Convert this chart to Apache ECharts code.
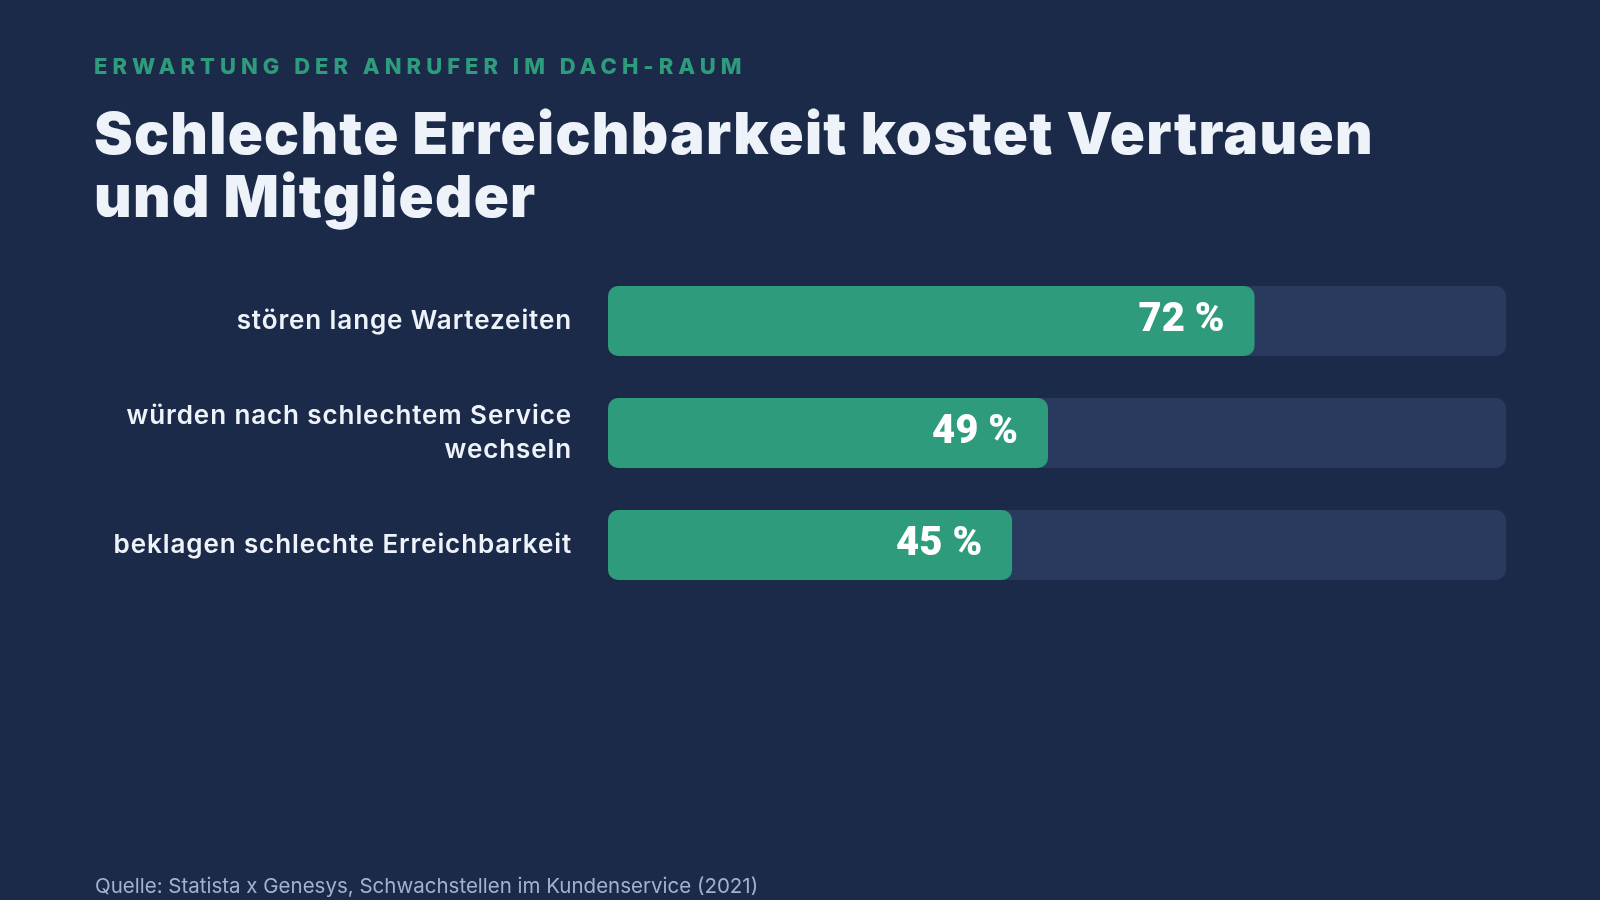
<!DOCTYPE html>
<html>
<head>
<meta charset="utf-8">
<script src="https://cdn.jsdelivr.net/npm/echarts@6/dist/echarts.min.js"></script>
<style>
html,body{margin:0;padding:0;background:#1c2a4a;}
#chart{width:1600px;height:900px;}
</style>
</head>
<body>
<div id="chart"></div>
<script>
const categories = ['stören lange Wartezeiten', 'würden nach schlechtem Service wechseln', 'beklagen schlechte Erreichbarkeit'];
const values = [72, 49, 45];
const kicker = 'ERWARTUNG DER ANRUFER IM DACH-RAUM';
const headline = 'Schlechte Erreichbarkeit kostet Vertrauen\nund Mitglieder';
const source = 'Quelle: Statista x Genesys, Schwachstellen im Kundenservice (2021)';

// tracking (letter spacing) per text style, applied at draw time
const tracking = [
  { match: '800 22px', spacing: '5px' },
  { match: '900 58px', spacing: '1.3px' },
  { match: '600 26px', spacing: '0.9px' }
];
const origFill = CanvasRenderingContext2D.prototype.fillText;
function drawPlain(ctx, t, x, y, m) {
  return m === undefined ? origFill.call(ctx, t, x, y) : origFill.call(ctx, t, x, y, m);
}
CanvasRenderingContext2D.prototype.fillText = function (t, x, y, m) {
  if (!('letterSpacing' in this)) return drawPlain(this, t, x, y, m);
  const f = this.font;
  const rule = tracking.find(r => f.indexOf(r.match) >= 0);
  const sp = rule ? rule.spacing : '0px';
  this.letterSpacing = sp;
  this.font = f;
  const r = drawPlain(this, t, x, y, m);
  this.letterSpacing = '0px';
  this.font = f;
  return r;
};

const chart = echarts.init(document.getElementById('chart'));
chart.setOption({
  backgroundColor: '#1c2a4a',
  animation: false,
  title: [
    { text: kicker, left: 89, top: 51,
      textStyle: { color: '#2e9c7c', fontFamily: 'Inter', fontWeight: 800, fontSize: 22 } },
    { text: headline, left: 89, top: 100,
      textStyle: { color: '#eef3fa', fontFamily: 'Inter', fontWeight: 900, fontSize: 58, lineHeight: 63 } },
    { text: source, left: 90, top: 871,
      textStyle: { color: '#a3b2cc', fontFamily: 'Inter', fontWeight: 400, fontSize: 20.5 } }
  ],
  grid: { left: 608, right: 94, top: 265, height: 336 },
  xAxis: { type: 'value', min: 0, max: 100, show: false },
  yAxis: {
    type: 'category', data: categories, inverse: true,
    axisLine: { show: false }, axisTick: { show: false },
    axisLabel: {
      color: '#eef3fa', fontFamily: 'Inter', fontWeight: 600, fontSize: 26, lineHeight: 34,
      margin: 36, align: 'right',
      formatter: v => v.length > 34 ? v.replace(/ (\S+)$/, '\n$1') : v
    }
  },
  series: [{
    type: 'bar', data: values, barWidth: 70,
    itemStyle: { color: '#2e9c7c', borderRadius: 10 },
    showBackground: true,
    backgroundStyle: { color: '#293a5e', borderRadius: 10 },
    label: {
      show: true, position: 'insideRight', distance: 30,
      formatter: p => p.value + ' %',
      color: '#ffffff', fontFamily: 'Roboto', fontWeight: 900, fontSize: 40
    }
  }]
});
</script>
</body>
</html>
